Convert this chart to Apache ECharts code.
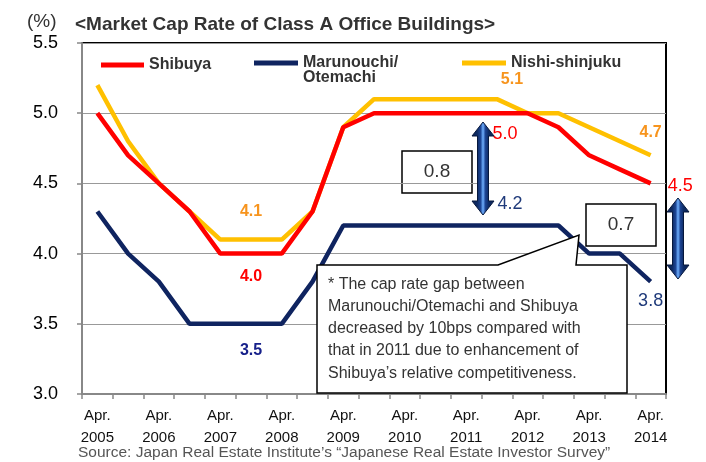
<!DOCTYPE html>
<html>
<head>
<meta charset="utf-8">
<script src="https://cdn.jsdelivr.net/npm/echarts@6/dist/echarts.min.js"></script>
<style>
  html, body { margin: 0; padding: 0; background: #fff; }
  #chart { width: 706px; height: 462px; }
</style>
</head>
<body>
<div id="chart"></div>
<script>
// half-year survey points, Apr. 2005 - Apr. 2014
var periods = ['Apr. 2005','Oct. 2005','Apr. 2006','Oct. 2006','Apr. 2007','Oct. 2007','Apr. 2008','Oct. 2008',
  'Apr. 2009','Oct. 2009','Apr. 2010','Oct. 2010','Apr. 2011','Oct. 2011','Apr. 2012','Oct. 2012',
  'Apr. 2013','Oct. 2013','Apr. 2014'];
var shibuya   = [5.0,4.7,4.5,4.3,4.0,4.0,4.0,4.3,4.9,5.0,5.0,5.0,5.0,5.0,5.0,4.9,4.7,4.6,4.5];
var marunouchi = [4.3,4.0,3.8,3.5,3.5,3.5,3.5,3.8,4.2,4.2,4.2,4.2,4.2,4.2,4.2,4.2,4.0,4.0,3.8];
var nishi     = [5.2,4.8,4.5,4.3,4.1,4.1,4.1,4.3,4.9,5.1,5.1,5.1,5.1,5.1,5.0,5.0,4.9,4.8,4.7];
var yTicks = [3.0,3.5,4.0,4.5,5.0,5.5];
var gaps = ['0.8','0.7'];
var note = ['* The cap rate gap between','Marunouchi/Otemachi and Shibuya','decreased by 10bps compared with',
  'that in 2011 due to enhancement of','Shibuya\u2019s relative competitiveness.'];

var FONT = 'Liberation Sans, Arial, sans-serif';
var RED = '#ff0000', NAVY = '#0f2460', YEL = '#ffc000', ORG = '#f7941d';

// put a label on one point of a series
function withLabels(arr, labels) {
  return arr.map(function (v, i) {
    if (!labels[i]) return v;
    return { value: v, label: Object.assign({ show: true, fontFamily: FONT, formatter: function (p) { return p.value.toFixed(1); } }, labels[i]) };
  });
}

var last = periods.length - 1;
var redLabels = {}, navyLabels = {}, yelLabels = {};
redLabels[5] = { position: 'bottom', distance: 15, color: RED, fontSize: 16, fontWeight: 'bold' };
redLabels[13] = { position: 'bottom', distance: 12, offset: [8, 0], color: RED, fontSize: 18 };
redLabels[last] = { position: 'right', distance: 17, offset: [0, 3], color: RED, fontSize: 18 };
navyLabels[5] = { position: 'bottom', distance: 19, color: '#16208a', fontSize: 16, fontWeight: 'bold' };
navyLabels[13] = { position: 'top', distance: 12, offset: [13, 0], color: '#1f3a7a', fontSize: 18 };
navyLabels[last] = { position: 'bottom', distance: 10, color: '#1f3a7a', fontSize: 18 };
yelLabels[5] = { position: 'top', distance: 20, color: ORG, fontSize: 16, fontWeight: 'bold' };
yelLabels[13] = { position: 'top', distance: 12, offset: [15, 0], color: ORG, fontSize: 16, fontWeight: 'bold' };
yelLabels[last] = { position: 'top', distance: 15, color: ORG, fontSize: 16, fontWeight: 'bold' };

// vertical double arrow with blue gradient
function arrow(cx, top, bot) {
  var hw = 11, sw = 5.5, hh = 14;
  return {
    type: 'polygon', z: 20,
    shape: { points: [[cx, top], [cx + hw, top + hh], [cx + sw, top + hh], [cx + sw, bot - hh], [cx + hw, bot - hh],
      [cx, bot], [cx - hw, bot - hh], [cx - sw, bot - hh], [cx - sw, top + hh], [cx - hw, top + hh]] },
    style: {
      fill: new echarts.graphic.LinearGradient(0, 0, 1, 0, [
        { offset: 0, color: '#0b2255' }, { offset: 0.25, color: '#0d2a63' }, { offset: 0.4, color: '#1d4594' },
        { offset: 0.5, color: '#6fb0ff' }, { offset: 0.6, color: '#1d4594' }, { offset: 0.75, color: '#0d2a63' },
        { offset: 1, color: '#0b2255' }]),
      stroke: '#07183c', lineWidth: 1
    }
  };
}
function gapBox(x, y, w, h, txt) {
  return { type: 'group', z: 20, children: [
    { type: 'rect', shape: { x: x, y: y, width: w, height: h }, style: { fill: '#fff', stroke: '#000', lineWidth: 1.5 } },
    { type: 'text', x: x + w / 2, y: y + h / 2, style: { text: txt, font: '19px ' + FONT, fill: '#333', align: 'center', verticalAlign: 'middle' } }
  ]};
}

var chart = echarts.init(document.getElementById('chart'));
var legendText = { fontFamily: FONT, fontSize: 16, fontWeight: 'bold', color: '#333' };
var lineSeries = function (name, data, color) {
  return { name: name, type: 'line', data: data, symbol: 'circle', symbolSize: 0.1, color: color,
    itemStyle: { color: color }, lineStyle: { width: 4.5 }, emphasis: { disabled: true } };
};
var option = {
  animation: false,
  title: {
    text: '<Market Cap Rate of Class A Office Buildings>', left: 70, top: 10,
    textStyle: { fontFamily: FONT, fontSize: 19, fontWeight: 'bold', color: '#333' }
  },
  grid: { left: 82, right: 40, top: 43, bottom: 68, show: true, borderColor: '#000', borderWidth: 2 },
  legend: [
    { data: ['Shibuya'], left: 96, top: 52, itemWidth: 43, itemHeight: 5, itemGap: 6, icon: 'rect', textStyle: legendText },
    { data: ['Marunouchi/Otemachi'], left: 249, top: 50, itemWidth: 44, itemHeight: 5, icon: 'rect', textStyle: legendText,
      formatter: function () { return 'Marunouchi/'; } },
    { data: ['Nishi-shinjuku'], left: 457, top: 50, itemWidth: 44, itemHeight: 5, itemGap: 6, icon: 'rect', textStyle: legendText }
  ],
  xAxis: {
    type: 'category', data: periods, boundaryGap: true,
    axisLine: { lineStyle: { color: '#888', width: 2 } },
    axisTick: { show: true, interval: 0, length: 5, lineStyle: { color: '#888', width: 1.5 } },
    axisLabel: {
      interval: 0, margin: 11, fontFamily: FONT, fontSize: 15, lineHeight: 22, color: '#111',
      formatter: function (v) { return v.indexOf('Apr.') === 0 ? v.replace(' ', '\n') : ''; }
    }
  },
  yAxis: {
    type: 'value', min: yTicks[0], max: yTicks[yTicks.length - 1], interval: 0.5,
    axisLine: { show: true, lineStyle: { color: '#888', width: 2 } },
    axisTick: { show: true, length: 5, lineStyle: { color: '#888', width: 1.5 } },
    axisLabel: { margin: 24, fontFamily: FONT, fontSize: 18, color: '#000', formatter: function (v) { return v.toFixed(1); } },
    splitLine: { lineStyle: { color: '#999', width: 1.2 } }
  },
  series: [
    lineSeries('Nishi-shinjuku', withLabels(nishi, yelLabels), YEL),
    lineSeries('Marunouchi/Otemachi', withLabels(marunouchi, navyLabels), NAVY),
    lineSeries('Shibuya', withLabels(shibuya, redLabels), RED)
  ],
  graphic: [
    { type: 'text', left: 27, top: 12, style: { text: '(%)', font: '19px ' + FONT, fill: '#333' } },
    { type: 'text', left: 303, top: 70, style: { text: 'Otemachi', font: 'bold 16px ' + FONT, fill: '#333' } },
    gapBox(402, 151, 70, 42, gaps[0]),
    arrow(483, 122, 215),
    gapBox(586, 204, 70, 42, gaps[1]),
    arrow(678, 198, 279),
    { type: 'polygon', z: 25,
      shape: { points: [[317, 265], [498, 265], [579, 235], [576, 265], [627, 265], [627, 393], [317, 393]] },
      style: { fill: '#fff', stroke: '#000', lineWidth: 1.5 } },
    { type: 'text', z: 26, left: 328, top: 273,
      style: { text: note.join('\n'), font: '16px ' + FONT, lineHeight: 22.3, fill: '#333' } },
    { type: 'text', left: 78, top: 445,
      style: { text: 'Source: Japan Real Estate Institute\u2019s \u201cJapanese Real Estate Investor Survey\u201d', font: '15.5px ' + FONT, fill: '#555' } }
  ]
};
chart.setOption(option);
</script>
</body>
</html>
